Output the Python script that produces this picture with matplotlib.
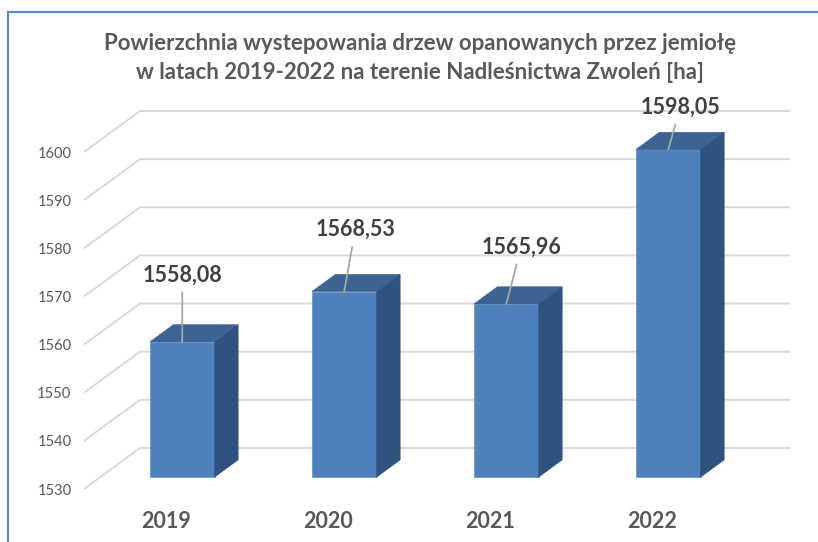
import matplotlib.pyplot as plt
from matplotlib.patches import Polygon
from matplotlib.lines import Line2D

# Powierzchnia drzew z jemiołą, Nadleśnictwo Zwoleń [ha]
years = ["2019", "2020", "2021", "2022"]
area_ha = [1558.08, 1568.53, 1565.96, 1598.05]
value_labels = ["1558,08", "1568,53", "1565,96", "1598,05"]
y_ticks = [1530, 1540, 1550, 1560, 1570, 1580, 1590, 1600]

# label placement above each bar (pixels, relative to front top edge)
label_offsets = [(0, 67), (11, 62), (15, 57), (12, 42)]

W, H = 818, 542
fig = plt.figure(figsize=(W / 100, H / 100), dpi=100)
plt.rcParams['font.family'] = ['Lato', 'DejaVu Sans']

# front plane of the 3d box, in pixels
left_px, right_px, bottom_px, top_px = 84, 734, 489, 152
ax = fig.add_axes([left_px / W, 1 - bottom_px / H,
                   (right_px - left_px) / W, (bottom_px - top_px) / H])
x0, x1 = -0.506, 3.506
ymin, ymax = y_ticks[0], y_ticks[-1]
ax.set_xlim(x0, x1)
ax.set_ylim(ymin, ymax)

# oblique depth offset of the back wall, in data units
DX = 56 / 162
DV = 41 / 4.814
bar_t0, bar_t1 = 0.29, 0.71
bar_w = 0.40

grid_col = '#d9d9d9'
for v in y_ticks:
    ax.plot([x0, x0 + DX, x1 + DX], [v, v + DV, v + DV], color=grid_col,
            lw=1.4, clip_on=False, zorder=0, solid_capstyle='butt')

front_col = '#4f81bd'
top_col = '#3c6392'
side_col = '#30527f'

for i, val in enumerate(area_ha):
    xl = i - bar_w / 2 + bar_t0 * DX
    xr = xl + bar_w
    yb = ymin + bar_t0 * DV
    yt = val + bar_t0 * DV
    ddx = (bar_t1 - bar_t0) * DX
    ddv = (bar_t1 - bar_t0) * DV
    front = Polygon([(xl, yb), (xr, yb), (xr, yt), (xl, yt)], closed=True,
                    facecolor=front_col, edgecolor='#6f97c9', lw=0.6, clip_on=False, zorder=2)
    top = Polygon([(xl, yt), (xr, yt), (xr + ddx, yt + ddv), (xl + ddx, yt + ddv)],
                  closed=True, facecolor=top_col, edgecolor=top_col, lw=0.4,
                  clip_on=False, zorder=2)
    side = Polygon([(xr, yb), (xr + ddx, yb + ddv), (xr + ddx, yt + ddv), (xr, yt)],
                   closed=True, facecolor=side_col, edgecolor=side_col, lw=0.4,
                   clip_on=False, zorder=2)
    for p in (front, top, side):
        ax.add_patch(p)

    ox, oy = label_offsets[i]
    ax.annotate(value_labels[i], xy=(i + bar_t0 * DX, yt), xytext=(ox, oy),
                textcoords='offset pixels', ha='center', va='center',
                fontsize=15.5, fontweight='bold', color='#404040',
                annotation_clip=False, zorder=4,
                arrowprops=dict(arrowstyle='-', color='#a6a6a6', lw=1.3,
                                shrinkA=3, shrinkB=0))

ax.set_yticks(y_ticks)
ax.set_yticklabels([str(v) for v in y_ticks], fontsize=10.5, color='#595959')
ax.set_xticks(range(len(years)))
ax.set_xticklabels(years, fontsize=15.5, fontweight='bold', color='#595959')
ax.tick_params(axis='y', length=0, pad=9)
ax.tick_params(axis='x', length=0, pad=16)
for s in ax.spines.values():
    s.set_visible(False)
ax.patch.set_alpha(0)

fig.text(420 / W, 1 - 58 / H,
         "Powierzchnia wystepowania drzew opanowanych przez jemiołę\n"
         "w latach 2019-2022 na terenie Nadleśnictwa Zwoleń [ha]",
         ha='center', va='center', fontsize=16, fontweight='bold',
         color='#595959', linespacing=1.45)

# chart area frame
border_col = '#5b8cc9'
fig.add_artist(Line2D([8 / W, 8 / W], [0, 1 - 12 / H], color=border_col, lw=1.6,
                      transform=fig.transFigure))
fig.add_artist(Line2D([8 / W, 1], [1 - 12 / H, 1 - 12 / H], color=border_col, lw=1.6,
                      transform=fig.transFigure))

fig.savefig('out.png', dpi=100)
